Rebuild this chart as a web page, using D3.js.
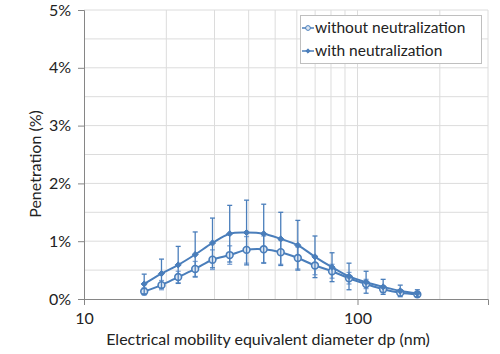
<!DOCTYPE html>
<html>
<head>
<meta charset="utf-8">
<script src="https://cdn.jsdelivr.net/npm/d3@7"></script>
<style>
  body { margin: 0; background: #fff; }
  text { font-family: Lato, "Open Sans", sans-serif; fill: #222; }
</style>
</head>
<body>
<div id="chart"></div>
<script>
// particle diameter (nm)
const diameters = [16.6, 19.2, 22.1, 25.5, 29.5, 34.1, 39.3, 45.4, 52.4, 60.5, 69.9, 80.7, 93.1, 107.5, 124.1, 143.3, 165.5];
// penetration (%)
const withNeut = [0.26, 0.44, 0.59, 0.77, 0.97, 1.13, 1.15, 1.13, 1.04, 0.93, 0.73, 0.55, 0.39, 0.29, 0.21, 0.14, 0.10];
const withoutNeut = [0.13, 0.24, 0.38, 0.52, 0.68, 0.76, 0.85, 0.86, 0.81, 0.71, 0.58, 0.48, 0.36, 0.26, 0.17, 0.11, 0.08];
const withErr = [0.17, 0.25, 0.32, 0.39, 0.43, 0.49, 0.56, 0.51, 0.46, 0.43, 0.36, 0.25, 0.23, 0.19, 0.13, 0.10, 0.06];
const withoutErr = [0.06, 0.08, 0.10, 0.13, 0.17, 0.16, 0.23, 0.23, 0.21, 0.19, 0.16, 0.12, 0.10, 0.08, 0.06, 0.05, 0.04];

const yTicks = [0, 1, 2, 3, 4, 5];
const yGrid = [0.5, 1, 1.5, 2, 2.5, 3, 3.5, 4, 4.5, 5];
const xTicks = [10, 100];
const xGrid = [20, 30, 40, 50, 60, 70, 80, 90, 100, 200, 300];

const W = 500, H = 354;
const margin = { top: 10, right: 12, bottom: 55, left: 84 };
const width = W - margin.left - margin.right;
const height = H - margin.top - margin.bottom;

const svg = d3.select("#chart").append("svg")
  .attr("width", W).attr("height", H);
const g = svg.append("g")
  .attr("transform", `translate(${margin.left},${margin.top})`);

const x = d3.scaleLog().domain([10, 300]).range([0, width]);
const y = d3.scaleLinear().domain([0, 5]).range([height, 0]);

// gridlines
g.selectAll(".hgrid").data(yGrid).enter().append("line")
  .attr("x1", 0).attr("x2", width)
  .attr("y1", d => y(d)).attr("y2", d => y(d))
  .attr("stroke", "#dcdcdc").attr("stroke-width", 1);
g.selectAll(".vgrid").data(xGrid).enter().append("line")
  .attr("x1", d => x(d)).attr("x2", d => x(d))
  .attr("y1", 0).attr("y2", height)
  .attr("stroke", "#dcdcdc").attr("stroke-width", 1);

// axes
const yAxis = d3.axisLeft(y).tickValues(yTicks).tickFormat(d => d + "%").tickSizeOuter(0).tickSize(6).tickPadding(7);
const xAxis = d3.axisBottom(x).tickValues(xTicks).tickFormat(d3.format("d")).tickSizeOuter(0).tickSize(6).tickPadding(8);

const ya = g.append("g").call(yAxis);
const xa = g.append("g").attr("transform", `translate(0,${height})`).call(xAxis);
[ya, xa].forEach(a => {
  a.select(".domain").attr("stroke", "#868686");
  a.selectAll(".tick line").attr("stroke", "#868686");
  a.selectAll(".tick text").style("font-size", "16px").attr("fill", "#222");
});

const color = "#4a7ebb";
const colorLight = "#7ea3d4";

const line = d3.line()
  .x(d => x(d.d))
  .y(d => y(d.v))
  .curve(d3.curveCatmullRom.alpha(0.5));

const series = [
  { name: "without neutralization", vals: withoutNeut, err: withoutErr, open: true, errColor: colorLight },
  { name: "with neutralization", vals: withNeut, err: withErr, open: false, errColor: color }
];

series.forEach(s => {
  const pts = diameters.map((d, i) => ({ d: d, v: s.vals[i], e: s.err[i] }));
  const eg = g.append("g");
  pts.forEach(p => {
    const cx = x(p.d);
    eg.append("line").attr("x1", cx).attr("x2", cx)
      .attr("y1", y(p.v + p.e)).attr("y2", y(Math.max(0, p.v - p.e)))
      .attr("stroke", s.errColor).attr("stroke-width", 1.3);
    [p.v + p.e, Math.max(0, p.v - p.e)].forEach(v => {
      eg.append("line").attr("x1", cx - 2.5).attr("x2", cx + 2.5)
        .attr("y1", y(v)).attr("y2", y(v))
        .attr("stroke", s.errColor).attr("stroke-width", 1.3);
    });
  });
  g.append("path").datum(pts)
    .attr("fill", "none").attr("stroke", color).attr("stroke-width", 2)
    .attr("d", line);
  const sym = d3.symbol().type(s.open ? d3.symbolCircle : d3.symbolDiamond2).size(s.open ? 36 : 24);
  g.selectAll(null).data(pts).enter().append("path")
    .attr("transform", d => `translate(${x(d.d)},${y(d.v)})`)
    .attr("d", sym)
    .attr("fill", s.open ? "#dce6f2" : color)
    .attr("stroke", color).attr("stroke-width", s.open ? 1.6 : 1);
});

// legend
const lg = svg.append("g");
lg.append("rect").attr("x", 300.5).attr("y", 15.5).attr("width", 181).attr("height", 48)
  .attr("fill", "#fff").attr("stroke", "#bfbfbf");
series.forEach((s, i) => {
  const ly = 28 + i * 23;
  lg.append("line").attr("x1", 302).attr("x2", 314).attr("y1", ly).attr("y2", ly)
    .attr("stroke", color).attr("stroke-width", 1.5);
  lg.append("path").attr("transform", `translate(308,${ly})`)
    .attr("d", d3.symbol().type(s.open ? d3.symbolCircle : d3.symbolDiamond2).size(s.open ? 18 : 12))
    .attr("fill", s.open ? "#dce6f2" : color).attr("stroke", color).attr("stroke-width", 1);
  lg.append("text").attr("x", 315).attr("y", ly + 5)
    .style("font-size", "15.5px").text(s.name);
});

// axis titles
svg.append("text")
  .attr("x", 268).attr("y", 345)
  .attr("text-anchor", "middle").style("font-size", "16px")
  .text("Electrical mobility equivalent diameter dp (nm)");
svg.append("text")
  .attr("transform", `translate(41,164) rotate(-90)`)
  .attr("text-anchor", "middle").style("font-size", "16px")
  .text("Penetration (%)");
</script>
</body>
</html>
